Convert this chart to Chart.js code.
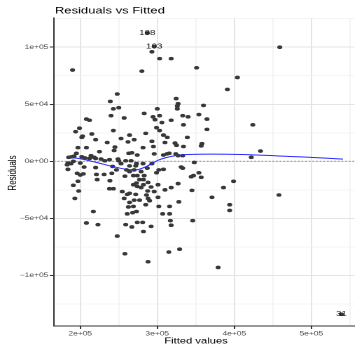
<!DOCTYPE html>
<html>
<head>
<meta charset="utf-8">
<script src="https://cdn.jsdelivr.net/npm/chart.js@4.4.1/dist/chart.umd.min.js"></script>
<style>
  html, body { margin: 0; padding: 0; background: #fff; overflow: hidden; }
  #wrap { width: 255px; height: 344px; transform: scaleX(1.4); transform-origin: 0 0; }
</style>
</head>
<body>
<div id="wrap"><canvas id="resid-fitted" width="255" height="344"></canvas></div>
<script>
// model diagnostics: residuals against fitted values
// the first three observations are the labelled outliers
const obsLabels = ['188', '103', '31'];

const fitted = [
  287000, 296000, 539000,
  190000, 293000, 303000, 318000, 280000, 351000, 459000, 404000, 391000, 248000,
  239000, 250000, 243000, 240000, 257000, 208000, 212000, 199000, 243000, 194000,
  215000, 203000, 202000, 220000, 253000, 264000, 270000, 235000, 262000, 197000,
  208000, 245000, 244000, 195000, 225000, 263000, 267000, 192000, 202000, 206000,
  214000, 218000, 212000, 220000, 227000, 232000, 238000, 249000, 250000, 259000,
  266000, 184000, 188000, 200000, 189000, 185000,
  324500, 327000, 326000, 326000, 300000, 360000, 283000, 294500, 303000, 297000,
  306000, 318000, 333000, 340000, 354000, 334000, 364500, 364500, 299000, 303000,
  285000, 308000, 313000, 339000, 293000, 310000, 323000, 325000, 334000, 358000,
  357000, 281500, 295000, 274000, 296000, 308000, 312500, 333000, 348000, 273000,
  281500, 424000, 434000, 422000,
  183000, 191000, 184000, 205000, 220000, 196000, 200000, 204000, 221000, 231000,
  241000, 222000, 238500, 258000, 269000, 197000, 191000, 269000, 198000, 238000,
  243000, 254500, 261000, 264000, 193000, 257000, 264000, 269000, 262500, 268000,
  261000, 217000, 208000, 223000, 259000, 267000, 248000, 258000,
  253000, 264000, 242000, 247000, 270000, 272000, 299000, 308000, 331000, 333000,
  344000, 347000, 354000, 357000, 279000, 283000, 274000, 282000, 288000, 282000,
  301000, 327000, 274000, 292000, 287500, 296000, 310000, 318000, 345000, 286000,
  288000, 290000, 301000, 270000, 328000, 302000, 316000, 371000, 273000, 307000,
  316000, 317000, 318000, 346000, 274000, 281000, 282000, 292000, 329000, 315000,
  288000, 399000, 386000, 394000, 394000, 458000, 379000,
  260000, 264000, 277000, 273000, 279000, 272000, 277000, 285000, 287000, 293000,
  302000, 315500, 324000, 327000
];

const residuals = [
  112500, 100700, -134000,
  80000, 96000, 90000, 90000, 79000, 82000, 100000, 73500, 63000, 59000,
  52500, 47000, 46000, 40000, 38000, 37000, 36000, 29000, 27000, 26000,
  24000, 22000, 21000, 19000, 20000, 23000, 19000, 16500, 17000, 12000,
  12000, 12500, 9500, 7000, 8500, 7000, 7500, 4500, 4000, 3000,
  5000, 3500, 2500, 2500, 2000, 500, 1500, 2000, 500, 500,
  500, -1500, -2000, -1500, 4000, 3500,
  55000, 50500, 48500, 46000, 46000, 49000, 42000, 39000, 40000, 36500,
  34000, 36000, 40000, 39000, 41000, 32000, 37000, 28000, 29500, 27000,
  24500, 23000, 21000, 21000, 17500, 16500, 16000, 14000, 13000, 15500,
  13500, 12000, 13000, 5500, 6500, 5500, 6500, 5000, -1000, -2000,
  -2000, 32000, 9000, 3500,
  -3000, 0, -7000, -5000, -5500, -10500, -12000, -11000, -11500, -11500,
  -10500, -16000, -17000, -13000, -12500, -17500, -21000, -20500, -26000, -24000,
  -24000, -26500, -29000, -28000, -32500, -32500, -36000, -39500, -40000, -45000,
  -46000, -44000, -54000, -55500, -55500, -57500, -65500, -81000,
  -2000, -4000, -4500, -7500, -7500, -4000, -10000, -7000, -5000, -6000,
  -13500, -12500, -10000, -14000, -9000, -12500, -12500, -16000, -18500, -20500,
  -20500, -19500, -22000, -22500, -26000, -26500, -25000, -23000, -25500, -29500,
  -32500, -34500, -31500, -34000, -35500, -39500, -39500, -31500, -44000, -46000,
  -46000, -52000, -56000, -52000, -53500, -53500, -61500, -57000, -77000, -79500,
  -88000, -17500, -23000, -38000, -43000, -29500, -93000,
  -7500, -9000, -16000, -19000, -23000, -29000, -34000, -38000, -6000, -2000,
  -7500, 7000, 6500, 5000
];

// loess smoother through the residuals
const smoothX = [185000, 200000, 220000, 240000, 260000, 272000, 285000, 302000, 320000, 340000, 370000, 410000, 455000, 500000, 541000];
const smoothY = [3700, 2200, -800, -4200, -7000, -7500, -4800, 1200, 4600, 6000, 6300, 6000, 4800, 3500, 1900];

const xTickValues = [200000, 300000, 400000, 500000];
const xTickLabels = ['2e+05', '3e+05', '4e+05', '5e+05'];
const xMinor = [250000, 350000, 450000, 550000];
const yTickValues = [-100000, -50000, 0, 50000, 100000];
const yTickLabels = ['\u22121e+05', '\u22125e+04', '0e+00', '5e+04', '1e+05'];
const yMinor = [-125000, -75000, -25000, 25000, 75000, 125000];

const FONT = "'Liberation Sans', Arial, Helvetica, sans-serif";

function breaks(major, minor) {
  return major.concat(minor).sort((a, b) => a - b).map(v => ({ value: v }));
}

function axis(major, labels, minor, min, max) {
  return {
    type: 'linear',
    min: min,
    max: max,
    afterBuildTicks: s => { s.ticks = breaks(major, minor); },
    grid: {
      color: c => major.includes(c.tick.value) ? '#e4e4e4' : '#f0f0f0',
      lineWidth: c => major.includes(c.tick.value) ? 1 : 0.7,
      tickColor: c => major.includes(c.tick.value) ? '#333333' : 'rgba(0,0,0,0)',
      tickLength: 3,
      tickWidth: 1
    },
    border: { display: true, color: '#333333', width: 1 },
    ticks: {
      autoSkip: false,
      maxRotation: 0,
      padding: 1,
      color: '#4d4d4d',
      font: { family: FONT, size: 6 },
      callback: v => {
        const i = major.indexOf(v);
        return i >= 0 ? labels[i] : '';
      }
    }
  };
}

const decor = {
  id: 'decor',
  beforeDatasetsDraw(chart) {
    const { ctx, chartArea: a, scales: { y } } = chart;
    const y0 = y.getPixelForValue(0);
    ctx.save();
    ctx.strokeStyle = '#9f9f9f';
    ctx.lineWidth = 1.1;
    ctx.setLineDash([1.3, 1.3]);
    ctx.beginPath();
    ctx.moveTo(a.left, y0);
    ctx.lineTo(a.right, y0);
    ctx.stroke();
    ctx.restore();
  },
  afterDatasetsDraw(chart) {
    const { ctx, scales: { x, y } } = chart;
    ctx.save();
    ctx.fillStyle = '#1a1a1a';
    ctx.font = '7px ' + FONT;
    ctx.textAlign = 'center';
    ctx.textBaseline = 'middle';
    obsLabels.forEach((t, i) => {
      ctx.fillText(t, x.getPixelForValue(fitted[i]), y.getPixelForValue(residuals[i]));
    });
    ctx.restore();
  },
  afterDraw(chart) {
    const { ctx, chartArea: a } = chart;
    ctx.save();
    ctx.fillStyle = '#000000';
    ctx.textBaseline = 'middle';
    ctx.font = '9.3px ' + FONT;
    ctx.textAlign = 'left';
    ctx.fillText('Residuals vs Fitted', a.left + 0.7, 11);

    ctx.font = '8px ' + FONT;
    ctx.textAlign = 'center';
    ctx.fillText('Fitted values', 140, 341.5);

    ctx.translate(9.1, 173);
    ctx.rotate(-Math.PI / 2);
    ctx.fillText('Residuals', 0, 0);
    ctx.restore();
  }
};

const points = fitted.map((f, i) => ({ x: f, y: residuals[i] }));
const smooth = smoothX.map((f, i) => ({ x: f, y: smoothY[i] }));

const ctx = document.getElementById('resid-fitted');
const xAxis = axis(xTickValues, xTickLabels, xMinor, 165800, 556000);
xAxis.afterFit = s => { s.height = 18; };
const yAxis = axis(yTickValues, yTickLabels, yMinor, -144300, 125600);
yAxis.afterFit = s => { s.width = 38.5; };

new Chart(ctx, {
  type: 'scatter',
  data: {
    datasets: [{
      data: points,
      backgroundColor: '#383838',
      pointRadius: 1.8,
      pointHoverRadius: 1.8,
      pointBorderWidth: 0,
      order: 1
    },
    {
      type: 'line',
      data: smooth,
      borderColor: '#2626ff',
      borderWidth: 1,
      pointRadius: 0,
      cubicInterpolationMode: 'monotone',
      fill: false,
      order: 0
    }]
  },
  options: {
    responsive: false,
    animation: false,
    devicePixelRatio: 2,
    layout: { padding: { top: 18, right: 0.5, left: 0, bottom: 0 } },
    plugins: {
      legend: { display: false },
      tooltip: { enabled: false }
    },
    scales: { x: xAxis, y: yAxis }
  },
  plugins: [decor]
});
</script>
</body>
</html>
